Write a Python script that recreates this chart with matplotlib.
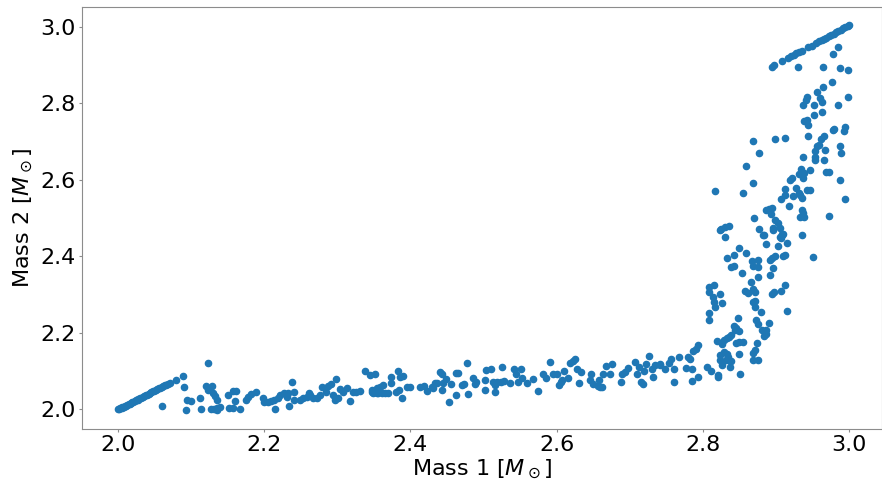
import numpy as np
import matplotlib.pyplot as plt

# Puntos (Mass 1, Mass 2), en masas solares
diagonal = [(2.000, 1.999), (2.002, 2.000), (2.003, 2.002), (2.005, 2.003), (2.006, 2.005),
            (2.008, 2.006), (2.010, 2.008), (2.011, 2.009), (2.013, 2.011), (2.015, 2.013),
            (2.016, 2.014), (2.018, 2.016), (2.020, 2.018), (2.021, 2.019), (2.023, 2.021),
            (2.025, 2.023), (2.027, 2.025), (2.028, 2.026), (2.030, 2.028), (2.032, 2.030),
            (2.034, 2.032), (2.036, 2.034), (2.038, 2.036), (2.040, 2.038), (2.042, 2.040),
            (2.044, 2.042), (2.046, 2.044), (2.048, 2.046), (2.050, 2.048), (2.052, 2.050),
            (2.054, 2.052), (2.056, 2.054), (2.058, 2.056), (2.060, 2.058), (2.062, 2.060),
            (2.064, 2.062), (2.066, 2.064), (2.068, 2.066), (2.071, 2.068)]

banda = [(2.061, 2.008), (2.080, 2.076), (2.089, 2.087), (2.090, 2.058), (2.093, 1.997),
         (2.094, 2.025), (2.100, 2.022), (2.112, 2.030), (2.114, 1.999), (2.123, 2.120),
         (2.121, 2.060), (2.129, 2.060), (2.123, 2.050), (2.130, 2.041), (2.133, 2.035),
         (2.135, 2.024), (2.127, 2.000), (2.131, 2.000), (2.136, 2.004), (2.140, 2.006),
         (2.135, 1.997), (2.150, 2.036), (2.157, 2.047), (2.161, 2.047), (2.160, 2.021),
         (2.152, 2.002), (2.158, 2.003), (2.167, 2.001), (2.175, 2.024), (2.178, 2.032),
         (2.182, 2.039), (2.189, 2.045), (2.199, 2.028), (2.200, 2.019), (2.205, 2.019),
         (2.210, 2.021), (2.214, 2.023), (2.215, 2.000), (2.219, 2.028), (2.222, 2.037),
         (2.227, 2.041), (2.233, 2.041), (2.231, 2.032), (2.234, 2.007), (2.238, 2.072),
         (2.241, 2.045), (2.241, 2.024), (2.249, 2.025), (2.253, 2.028), (2.258, 2.032),
         (2.263, 2.037), (2.267, 2.028), (2.262, 2.041), (2.273, 2.028), (2.276, 2.037),
         (2.279, 2.058), (2.285, 2.045), (2.288, 2.060), (2.292, 2.065), (2.294, 2.037),
         (2.298, 2.079), (2.297, 2.024), (2.301, 2.028), (2.304, 2.052), (2.308, 2.045),
         (2.313, 2.054), (2.317, 2.021), (2.322, 2.045), (2.326, 2.045), (2.331, 2.047),
         (2.338, 2.100), (2.345, 2.089), (2.352, 2.093), (2.347, 2.045), (2.354, 2.041),
         (2.347, 2.050), (2.352, 2.045), (2.356, 2.041), (2.361, 2.041), (2.365, 2.041),
         (2.370, 2.041), (2.363, 2.063), (2.358, 2.058), (2.354, 2.054), (2.349, 2.041),
         (2.373, 2.067), (2.374, 2.085), (2.383, 2.099), (2.386, 2.085), (2.390, 2.086),
         (2.385, 2.050), (2.388, 2.028), (2.381, 2.045), (2.396, 2.057), (2.399, 2.057),
         (2.413, 2.057), (2.418, 2.060), (2.423, 2.047), (2.429, 2.058), (2.434, 2.067),
         (2.431, 2.054), (2.436, 2.067), (2.440, 2.098), (2.443, 2.091), (2.445, 2.067),
         (2.443, 2.050), (2.449, 2.078), (2.453, 2.019), (2.456, 2.065), (2.462, 2.095),
         (2.465, 2.095), (2.463, 2.038), (2.470, 2.063), (2.474, 2.065), (2.479, 2.039),
         (2.478, 2.120), (2.485, 2.082), (2.490, 2.070), (2.488, 2.065), (2.502, 2.050),
         (2.502, 2.076), (2.503, 2.102), (2.510, 2.105), (2.513, 2.070), (2.516, 2.063),
         (2.519, 2.071), (2.524, 2.071), (2.528, 2.074), (2.526, 2.109), (2.516, 2.045),
         (2.536, 2.067), (2.542, 2.105), (2.545, 2.091), (2.547, 2.071), (2.552, 2.105),
         (2.553, 2.080), (2.559, 2.069), (2.568, 2.078), (2.575, 2.047), (2.582, 2.091),
         (2.585, 2.080), (2.591, 2.123), (2.595, 2.091), (2.600, 2.091), (2.603, 2.063),
         (2.606, 2.071), (2.608, 2.076), (2.610, 2.099), (2.616, 2.082), (2.619, 2.120),
         (2.622, 2.126), (2.625, 2.130), (2.628, 2.105), (2.633, 2.098), (2.630, 2.067),
         (2.647, 2.093), (2.646, 2.076), (2.650, 2.065), (2.656, 2.060), (2.659, 2.058),
         (2.662, 2.058), (2.658, 2.076), (2.664, 2.093), (2.667, 2.113), (2.673, 2.093),
         (2.676, 2.117), (2.688, 2.070), (2.689, 2.093), (2.694, 2.096), (2.697, 2.108),
         (2.707, 2.124), (2.710, 2.093), (2.713, 2.111), (2.716, 2.070), (2.718, 2.065),
         (2.719, 2.099), (2.722, 2.117), (2.727, 2.140), (2.730, 2.104), (2.732, 2.085),
         (2.735, 2.115), (2.742, 2.117), (2.748, 2.106), (2.741, 2.115), (2.754, 2.120),
         (2.757, 2.130), (2.760, 2.106), (2.761, 2.071), (2.767, 2.135), (2.777, 2.108),
         (2.780, 2.137), (2.782, 2.130), (2.785, 2.106), (2.785, 2.073), (2.787, 2.153),
         (2.790, 2.156), (2.793, 2.168), (2.794, 2.085), (2.806, 2.111), (2.811, 2.100),
         (2.821, 2.089), (2.821, 2.085)]

rama = [(2.808, 2.250), (2.809, 2.233), (2.809, 2.320), (2.815, 2.325), (2.809, 2.305),
        (2.814, 2.294), (2.815, 2.281), (2.817, 2.268), (2.824, 2.301), (2.826, 2.278),
        (2.819, 2.178), (2.826, 2.169), (2.829, 2.181), (2.833, 2.185), (2.823, 2.141),
        (2.823, 2.128), (2.826, 2.115), (2.829, 2.150), (2.833, 2.143), (2.831, 2.128),
        (2.837, 2.126), (2.839, 2.126), (2.837, 2.111), (2.834, 2.137), (2.836, 2.189),
        (2.839, 2.194), (2.842, 2.217), (2.844, 2.207), (2.846, 2.211), (2.850, 2.205),
        (2.848, 2.237), (2.845, 2.172), (2.850, 2.176), (2.855, 2.176), (2.850, 2.144),
        (2.851, 2.093), (2.824, 2.469), (2.830, 2.451), (2.833, 2.395), (2.842, 2.403),
        (2.849, 2.422), (2.838, 2.371), (2.842, 2.375), (2.859, 2.409), (2.854, 2.355),
        (2.867, 2.387), (2.875, 2.390), (2.868, 2.374), (2.875, 2.372), (2.866, 2.331),
        (2.875, 2.345), (2.858, 2.310), (2.862, 2.303), (2.869, 2.313), (2.872, 2.307),
        (2.868, 2.281), (2.871, 2.283), (2.871, 2.268), (2.879, 2.255), (2.873, 2.233),
        (2.876, 2.222), (2.881, 2.207), (2.886, 2.207), (2.886, 2.196), (2.884, 2.191),
        (2.890, 2.225), (2.874, 2.173), (2.872, 2.155), (2.868, 2.147), (2.868, 2.128),
        (2.876, 2.128), (2.882, 2.455), (2.886, 2.432), (2.896, 2.469), (2.906, 2.451),
        (2.908, 2.455), (2.910, 2.458), (2.915, 2.433), (2.903, 2.427), (2.894, 2.394),
        (2.892, 2.390), (2.899, 2.401), (2.909, 2.399), (2.912, 2.403), (2.896, 2.368),
        (2.892, 2.351), (2.897, 2.307), (2.894, 2.301), (2.907, 2.309), (2.912, 2.325),
        (2.915, 2.257), (2.936, 2.454), (2.950, 2.397), (2.930, 2.894), (2.964, 2.894),
        (2.987, 2.892), (2.999, 2.887), (2.985, 2.948), (2.978, 2.929), (2.976, 2.854),
        (2.964, 2.841), (2.956, 2.830), (2.960, 2.813), (2.963, 2.803), (2.942, 2.816),
        (2.941, 2.809), (2.937, 2.796), (2.952, 2.796), (2.998, 2.815), (2.985, 2.796),
        (2.952, 2.769), (2.963, 2.777), (2.938, 2.752), (2.943, 2.755), (2.944, 2.742),
        (2.979, 2.732), (2.978, 2.729), (2.995, 2.737), (2.993, 2.726), (2.944, 2.715),
        (2.966, 2.713), (2.961, 2.706), (2.868, 2.700), (2.898, 2.706), (2.912, 2.710),
        (2.956, 2.687), (2.959, 2.691), (2.953, 2.674), (2.967, 2.678), (2.987, 2.689),
        (2.989, 2.669), (2.877, 2.669), (2.937, 2.660), (2.953, 2.660), (2.954, 2.650),
        (2.966, 2.650), (2.859, 2.636), (2.934, 2.627), (2.939, 2.617), (2.946, 2.624),
        (2.931, 2.614), (2.968, 2.620), (2.973, 2.621), (2.922, 2.604), (2.919, 2.599),
        (2.937, 2.604), (2.868, 2.591), (2.988, 2.598), (2.817, 2.571), (2.855, 2.565),
        (2.912, 2.576), (2.928, 2.578), (2.942, 2.573), (2.946, 2.573), (2.913, 2.560),
        (2.931, 2.565), (2.933, 2.560), (2.923, 2.556), (2.935, 2.552), (2.907, 2.550),
        (2.995, 2.549), (2.918, 2.530), (2.887, 2.521), (2.891, 2.524), (2.894, 2.525),
        (2.893, 2.510), (2.935, 2.521), (2.937, 2.512), (2.933, 2.503), (2.938, 2.503),
        (2.870, 2.500), (2.972, 2.505), (2.899, 2.495), (2.903, 2.486), (2.906, 2.473),
        (2.896, 2.473), (2.877, 2.470), (2.883, 2.455), (2.908, 2.458), (2.907, 2.448),
        (2.825, 2.470), (2.830, 2.476), (2.836, 2.480)]

linea_sup = [(2.894, 2.894), (2.897, 2.899), (2.908, 2.909), (2.917, 2.918), (2.921, 2.922),
             (2.924, 2.926), (2.928, 2.931), (2.932, 2.934), (2.935, 2.937), (2.944, 2.947),
             (2.949, 2.950), (2.955, 2.957), (2.959, 2.962), (2.963, 2.965), (2.966, 2.968),
             (2.969, 2.970), (2.972, 2.975), (2.975, 2.978), (2.979, 2.982), (2.982, 2.985),
             (2.985, 2.989), (2.989, 2.992), (2.992, 2.996), (2.995, 2.998), (2.998, 3.001),
             (3.000, 3.003)]

puntos = np.array(diagonal + banda + rama + linea_sup)
m1 = puntos[:, 0]
m2 = puntos[:, 1]

fig = plt.figure(figsize=(8.82, 4.82), dpi=100)
ax = fig.add_axes([0.093, 0.110, 0.907, 0.876])
ax.scatter(m1, m2, s=20, color='#1f77b4')
ax.set_xlim(1.951, 3.045)
ax.set_ylim(1.948, 3.052)
ax.set_xticks([2.0, 2.2, 2.4, 2.6, 2.8, 3.0])
ax.set_yticks([2.0, 2.2, 2.4, 2.6, 2.8, 3.0])
ax.tick_params(labelsize=16, length=2, pad=2.5, color='0.55')
for s in ax.spines.values():
    s.set_color('0.55')
ax.set_xlabel(r'Mass 1 [$M_\odot$]', fontsize=16, labelpad=2)
ax.set_ylabel(r'Mass 2 [$M_\odot$]', fontsize=16, labelpad=4)
fig.savefig('out.png', dpi=100)
